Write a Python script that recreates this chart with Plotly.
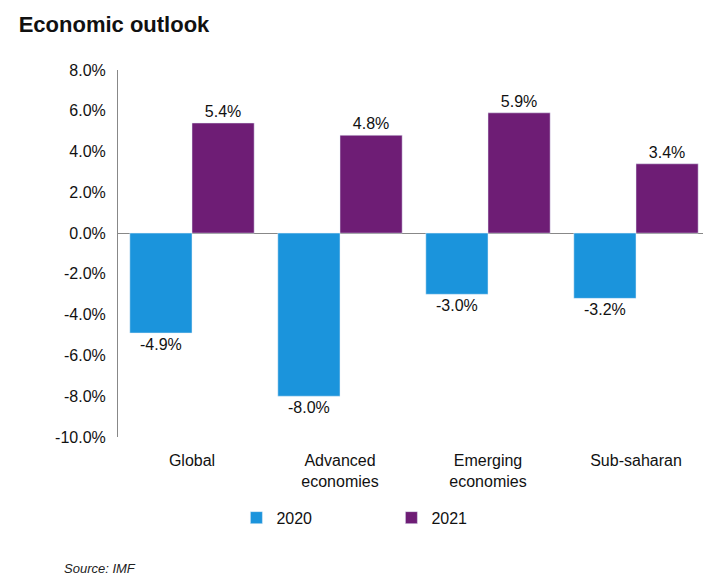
import plotly.graph_objects as go

categories = ["Global", "Advanced<br>economies", "Emerging<br>economies", "Sub-saharan"]
values2020 = [-4.9, -8.0, -3.0, -3.2]
values2021 = [5.4, 4.8, 5.9, 3.4]
tickVals = [8, 6, 4, 2, 0, -2, -4, -6, -8, -10]

fnt = dict(family="Liberation Sans, Arial", size=16, color="#111")

fig = go.Figure()
fig.add_trace(go.Bar(
    x=categories, y=values2020, name="2020", marker_color="#1b94dc",
    text=["%.1f%%" % v for v in values2020], textposition="outside", textfont=fnt,
    cliponaxis=False,
))
fig.add_trace(go.Bar(
    x=categories, y=values2021, name="2021", marker_color="#6e1d75",
    text=["%.1f%%" % v for v in values2021], textposition="outside", textfont=fnt,
    cliponaxis=False,
))

fig.update_layout(
    width=711, height=587,
    margin=dict(l=110, r=9, t=62, b=158),
    paper_bgcolor="white", plot_bgcolor="white",
    barmode="group", bargap=0.16, bargroupgap=0,
    font=fnt,
    showlegend=True,
    legend=dict(orientation="h", x=0.2, y=-0.22, xanchor="left", yanchor="middle",
                font=fnt, itemwidth=30, traceorder="normal", entrywidth=110),
    title=dict(text="<b>Economic outlook</b>", x=0.015, y=0.985, xanchor="left",
               font=dict(family="Liberation Sans, Arial", size=22, color="#111")),
    annotations=[dict(text="<i>Source: IMF</i>", x=(62 - 118) / 592, y=-(568 - 437) / 367,
                      xref="paper", yref="paper", xanchor="left", yanchor="middle",
                      showarrow=False, font=dict(size=13, color="#222"))],
)

fig.update_yaxes(range=[-10, 8], tickvals=tickVals,
                 ticktext=["%.1f%%" % v for v in tickVals],
                 showgrid=False, zeroline=True, zerolinecolor="#888", zerolinewidth=1,
                 showline=True, linecolor="#888", ticks="", ticklabelstandoff=8)
fig.update_xaxes(showgrid=False, showline=False, ticks="", ticklabelstandoff=12)

fig.write_html("out.html")
